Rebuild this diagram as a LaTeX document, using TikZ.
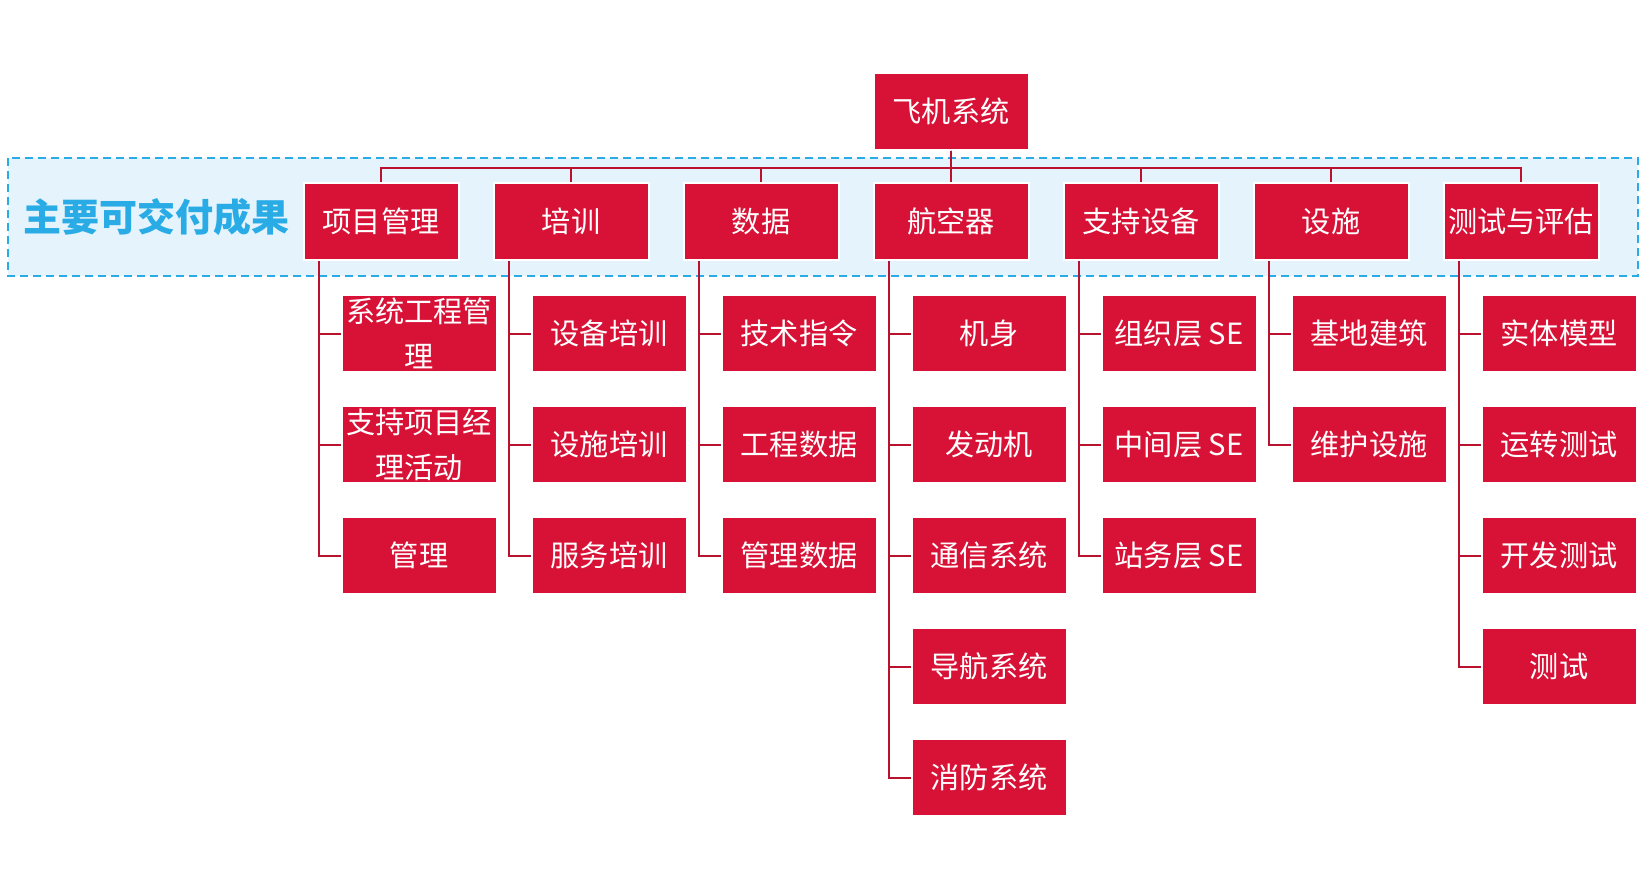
\documentclass[tikz,border=0pt]{standalone}
\usepackage{fontspec}
\setmainfont{Noto Sans CJK SC}
\usetikzlibrary{positioning}
\definecolor{boxred}{RGB}{216,18,54}
\definecolor{linkred}{RGB}{184,18,46}
\definecolor{bandfill}{RGB}{229,243,252}
\definecolor{bandline}{RGB}{41,172,230}
\tikzset{
  box/.style={fill=boxred,draw=white,line width=1pt,text=white,
    minimum width=77.5pt,minimum height=38.5pt,inner sep=0pt,align=center,
    font=\fontsize{14.6}{22.5}\selectfont},
  link/.style={draw=linkred,line width=1pt}
}
\begin{document}
\begin{tikzpicture}[x=0.5pt,y=-0.5pt]
        \useasboundingbox (0,0) rectangle (1643,889);
        % band of the main deliverables
        \draw[fill=bandfill,draw=bandline,line width=1pt,dash pattern=on 4pt off 2.5pt]
        (8,158) rectangle (1638,276);
        \node[text=bandline,font=\fontsize{19}{22}\selectfont\bfseries] (band) at (157,217) {主要可交付成果};
        \node[box] (root) at (951,111) {飞机系统};
        \foreach \c/\t [count=\i] in {%
          pm/项目管理, tr/培训, da/数据, ac/航空器,
          se/支持设备, fa/设施, te/测试与评估} {
            \node[box] (\c) at (191+190*\i,221.5) {\t};
            \draw[link] (root.south) -- ++(0,17) -| (\c.north);
        }
        \foreach \c/\k/\t in {%
          pm/1/{系统工程管\\理}, pm/2/{支持项目经\\理活动}, pm/3/管理,
          tr/1/设备培训, tr/2/设施培训, tr/3/服务培训,
          da/1/技术指令, da/2/工程数据, da/3/管理数据,
          ac/1/机身, ac/2/发动机, ac/3/通信系统, ac/4/导航系统, ac/5/消防系统,
          se/1/组织层 SE, se/2/中间层 SE, se/3/站务层 SE,
          fa/1/基地建筑, fa/2/维护设施,
          te/1/实体模型, te/2/运转测试, te/3/开发测试, te/4/测试} {
            \path (\c.center) ++(38,1+111*\k) node[box] (\c\k) {\t};
            \draw[link] ([xshift=-31pt]\c.south) |- (\c\k.west);
        }
      \end{tikzpicture}
\end{document}
